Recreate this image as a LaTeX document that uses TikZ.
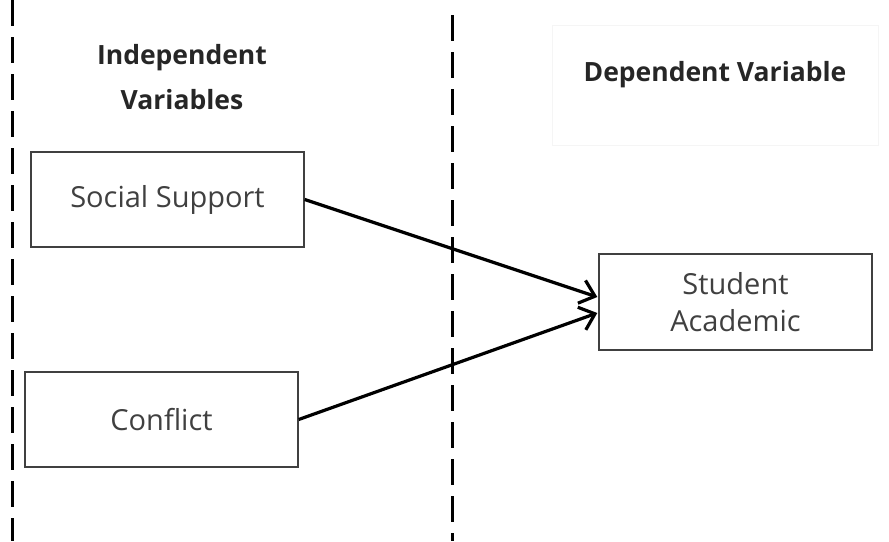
\documentclass[tikz,border=0pt]{standalone}
\usepackage{fontspec}
\setmainfont{Open Sans}
\usetikzlibrary{arrows.meta,calc}
\begin{document}
\begin{tikzpicture}[x=1pt,y=-1pt,
  varbox/.style={draw=black!75, line width=1.4pt, minimum width=273pt, minimum height=95pt, inner sep=0pt, align=center, font=\fontsize{29}{37}\selectfont, text=black!75},
  head/.style={font=\bfseries\fontsize{26.5}{45}\selectfont, align=center, text=black!85},
  divider/.style={line width=3pt, dash pattern=on 26pt off 11pt},
  link/.style={line width=3.2pt, -{Straight Barb[length=14pt,width=24pt,line width=3.2pt]}}]
\useasboundingbox (0,0) rectangle (889,541);
\draw[divider] (12,0) -- (12,541);
\draw[divider] (452,15) -- (452,541);
\node[draw=black!4, line width=0.8pt, minimum width=326pt, minimum height=120pt] (dvframe) at (715,85) {};
\node[head] (ivh) at (182,77) {Independent\\Variables};
\node[head] (dvh) at (715,75) {Dependent Variable};
\node[varbox] (ss) at (167.5,199.5) {Social Support};
\node[varbox] (cf) at (161.5,419.5) {Conflict};
\node[varbox, minimum height=96pt] (sa) at (735.5,302) {Student\\Academic};
\coordinate (t1) at ($(sa.west)+(-1,-5)$);
\coordinate (t2) at ($(sa.west)+(-1,11)$);
\draw[link] (ss.east) -- (t1);
\draw[link] (cf.east) -- (t2);
\end{tikzpicture}
\end{document}
